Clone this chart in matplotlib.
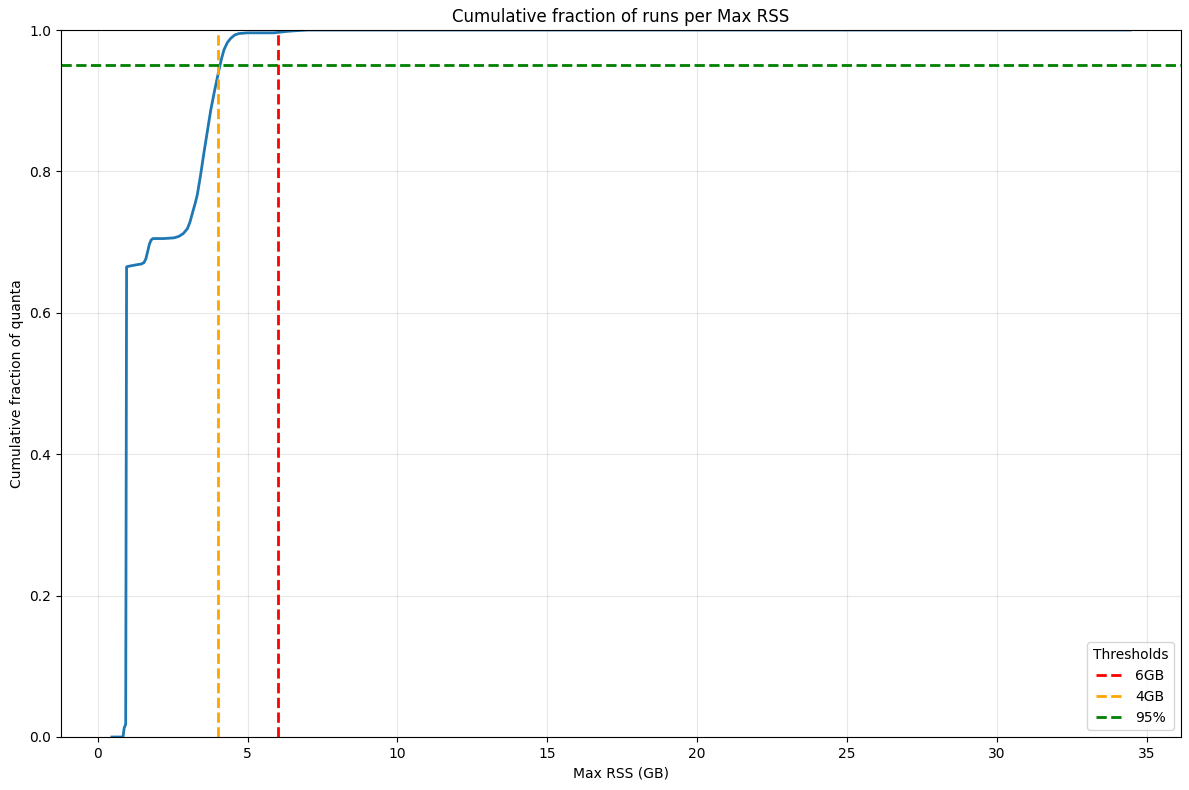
import matplotlib.pyplot as plt

# cumulative curve
rss_gb = [0.47, 0.84, 0.88, 0.93, 0.96, 1.05, 1.3, 1.45, 1.54, 1.6, 1.66, 1.72, 1.78, 1.84,
          1.95, 2.2, 2.54, 2.7, 2.85, 2.99, 3.08, 3.17, 3.25, 3.32, 3.43, 3.54, 3.66, 3.77,
          3.9, 4.04, 4.12, 4.21, 4.32, 4.43, 4.57, 4.71, 5.0, 5.87, 6.1, 6.3, 6.6, 7.0,
          10.0, 20.0, 34.45]
cum_frac = [0.0, 0.0, 0.013, 0.018, 0.665, 0.666, 0.668, 0.669, 0.671, 0.676, 0.686, 0.697,
            0.703, 0.705, 0.705, 0.705, 0.706, 0.708, 0.712, 0.719, 0.729, 0.743, 0.755,
            0.767, 0.795, 0.826, 0.858, 0.887, 0.915, 0.943, 0.958, 0.972, 0.982, 0.988,
            0.993, 0.995, 0.996, 0.996, 0.997, 0.998, 0.999, 1.0, 1.0, 1.0, 1.0]

thresholds = [("6GB", 6, "red"), ("4GB", 4, "orange")]
pct_line = 0.95

fig, ax = plt.subplots(figsize=(11.89, 7.9), dpi=100)
ax.plot(rss_gb, cum_frac, color="#1f77b4", linewidth=2)
for label, x, c in thresholds:
    ax.axvline(x, color=c, linestyle="--", linewidth=2, label=label)
ax.axhline(pct_line, color="green", linestyle="--", linewidth=2, label="95%")

ax.set_ylim(0, 1)
ax.set_xlabel("Max RSS (GB)")
ax.set_ylabel("Cumulative fraction of quanta")
ax.set_title("Cumulative fraction of runs per Max RSS")
ax.grid(True, alpha=0.3)
ax.legend(title="Thresholds", loc="lower right")
fig.subplots_adjust(left=61/1189, right=1181/1189, top=1-30/790, bottom=1-737/790)
fig.savefig("out.png")
